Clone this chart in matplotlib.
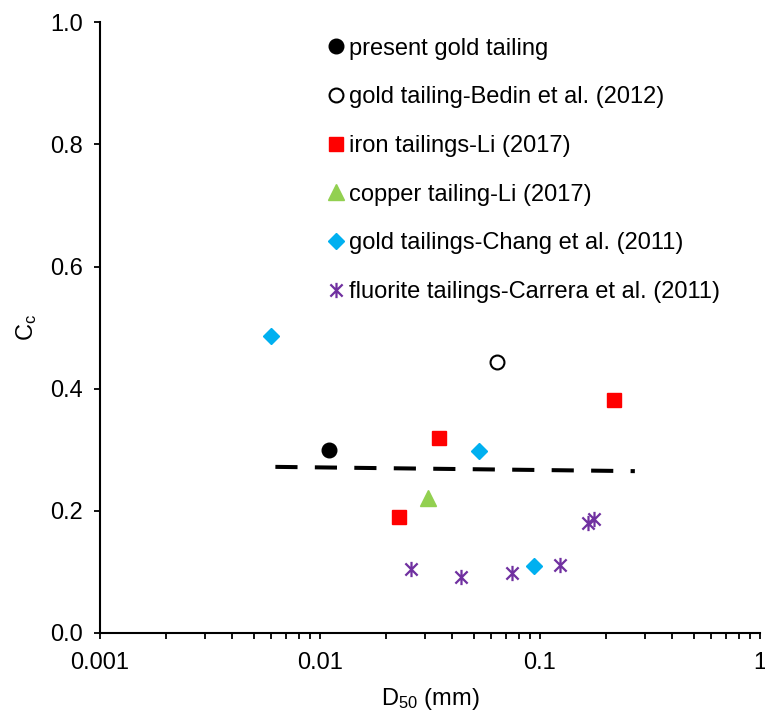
import matplotlib
matplotlib.use("Agg")
import matplotlib.pyplot as plt
from matplotlib.path import Path
from matplotlib.ticker import LogLocator, FixedLocator, NullFormatter, FixedFormatter

plt.rcParams['font.family'] = ['Liberation Sans', 'DejaVu Sans']
plt.rcParams['mathtext.fontset'] = 'custom'
plt.rcParams['mathtext.rm'] = 'Liberation Sans'
plt.rcParams['mathtext.it'] = 'Liberation Sans'

# Data
present_x = [0.011]
present_y = [0.30]
bedin_x = [0.064]
bedin_y = [0.443]
iron_x = [0.0229, 0.0348, 0.218]
iron_y = [0.190, 0.319, 0.381]
copper_x = [0.031]
copper_y = [0.221]
chang_x = [0.0060, 0.0527, 0.0935]
chang_y = [0.486, 0.298, 0.110]
fluor_x = [0.026, 0.0436, 0.0743, 0.1228, 0.166, 0.1766]
fluor_y = [0.105, 0.092, 0.098, 0.111, 0.180, 0.187]
trend_x = [0.00627, 0.27]
trend_y = [0.272, 0.265]

labels = ["present gold tailing", "gold tailing-Bedin et al. (2012)",
          "iron tailings-Li (2017)", "copper tailing-Li (2017)",
          "gold tailings-Chang et al. (2011)", "fluorite tailings-Carrera et al. (2011)"]

star = Path([(0, -1), (0, 1), (-0.8, -0.8), (0.8, 0.8), (-0.8, 0.8), (0.8, -0.8)],
            [Path.MOVETO, Path.LINETO, Path.MOVETO, Path.LINETO, Path.MOVETO, Path.LINETO])

fig = plt.figure(figsize=(7.65, 7.18), dpi=100)
ax = fig.add_axes([0.1307, 0.1184, 0.8627, 0.8506])

ax.plot(trend_x, trend_y, color='black', lw=2.9, dashes=(5.5, 4.3), zorder=1)
ax.plot(present_x, present_y, 'o', color='black', ms=10.5, ls='none', label=labels[0])
ax.plot(bedin_x, bedin_y, 'o', mfc='white', mec='black', mew=1.5, ms=10, ls='none', label=labels[1])
ax.plot(iron_x, iron_y, 's', color='#FF0000', ms=10.5, ls='none', label=labels[2])
ax.plot(copper_x, copper_y, '^', color='#92D050', ms=11.5, ls='none', label=labels[3])
ax.plot(chang_x, chang_y, 'D', color='#00B0F0', ms=8.5, ls='none', label=labels[4])
ax.plot(fluor_x, fluor_y, marker=star, color='#7030A0', mec='#7030A0', mew=1.6, ms=11, ls='none', label=labels[5])

ax.set_xscale('log')
ax.set_xlim(0.001, 1)
ax.set_ylim(0, 1.0)
ax.set_yticks([0.0, 0.2, 0.4, 0.6, 0.8, 1.0])
ax.set_yticklabels(["0.0", "0.2", "0.4", "0.6", "0.8", "1.0"])
ax.xaxis.set_major_locator(FixedLocator([0.001, 0.01, 0.1, 1]))
ax.xaxis.set_major_formatter(FixedFormatter(["0.001", "0.01", "0.1", "1"]))
ax.xaxis.set_minor_locator(LogLocator(base=10, subs=range(2, 10)))
ax.xaxis.set_minor_formatter(NullFormatter())

for s in ['top', 'right']:
    ax.spines[s].set_visible(False)
for s in ['left', 'bottom']:
    ax.spines[s].set_linewidth(1.5)
ax.tick_params(axis='both', which='major', direction='out', length=4, width=1.3, labelsize=17, colors='black')
ax.tick_params(axis='x', which='minor', direction='out', length=4, width=1.3)
ax.tick_params(axis='y', pad=8)
ax.tick_params(axis='x', pad=10)

ax.set_xlabel("D$_{50}$ (mm)", fontsize=17, labelpad=8)
ax.set_ylabel("C$_{\\mathrm{c}}$", fontsize=17, labelpad=8)

ax.legend(loc='upper left', bbox_to_anchor=(0.322, 1.002), frameon=False, fontsize=17,
          handlelength=0.6, handletextpad=0.25, labelspacing=1.13, borderaxespad=0.3)

fig.savefig("out.png", dpi=100)
